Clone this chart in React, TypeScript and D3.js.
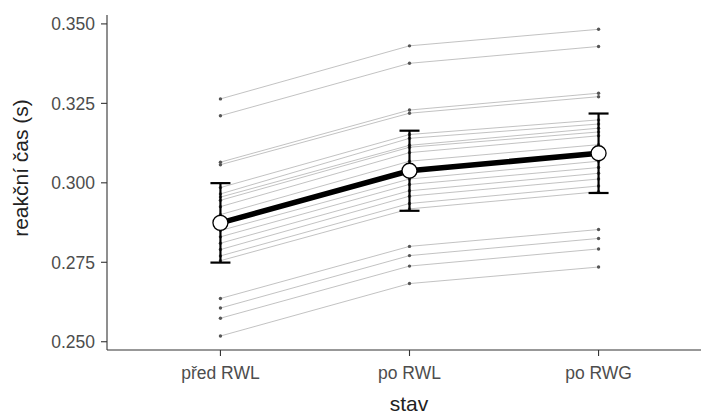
import React from 'react';
import * as d3 from 'd3';

const categories = ['před RWL', 'po RWL', 'po RWG'];
const yTicks = [0.25, 0.275, 0.3, 0.325, 0.35];

// one row per subject: [před RWL, po RWL, po RWG]
const subjects: number[][] = [
  [0.3264, 0.3431, 0.3483],
  [0.3211, 0.3376, 0.3429],
  [0.3065, 0.3229, 0.3282],
  [0.3057, 0.3219, 0.3271],
  [0.2985, 0.3152, 0.3198],
  [0.2965, 0.3140, 0.3185],
  [0.2955, 0.3118, 0.3172],
  [0.2945, 0.3112, 0.3160],
  [0.2925, 0.3095, 0.3148],
  [0.2900, 0.3068, 0.3120],
  [0.2875, 0.3040, 0.3095],
  [0.2850, 0.3012, 0.3068],
  [0.2830, 0.2995, 0.3048],
  [0.2810, 0.2975, 0.3030],
  [0.2790, 0.2958, 0.3012],
  [0.2770, 0.2935, 0.2990],
  [0.2755, 0.2918, 0.2972],
  [0.2636, 0.2800, 0.2853],
  [0.2606, 0.2771, 0.2825],
  [0.2574, 0.2738, 0.2792],
  [0.2518, 0.2683, 0.2735],
];

const means = [0.2874, 0.3038, 0.3093];
const errors = [0.0125, 0.0126, 0.0125];

export default function App() {
  const W = 701;
  const H = 417;
  const left = 107;
  const top = 15;
  const bottom = 350;

  const x = d3.scalePoint<string>().domain(categories).range([left, 712]).padding(0.6);
  const y = d3.scaleLinear().domain([0.2474, 0.3528]).range([bottom, top]);

  const line = d3.line<number>()
    .x((_, i) => x(categories[i]) as number)
    .y(d => y(d));

  const font = '"Liberation Sans", Arial, sans-serif';

  return (
    <svg width={W} height={H} style={{ position: 'absolute', left: 0, top: 0 }} fontFamily={font}>
      <rect width={W} height={H} fill="#fff" />
      {subjects.map((s, i) => (
        <g key={i}>
          <path d={line(s) || ''} fill="none" stroke="#b3b3b3" strokeWidth={0.8} />
          {s.map((v, j) => (
            <circle key={j} cx={x(categories[j])} cy={y(v)} r={1.7} fill="#555" />
          ))}
        </g>
      ))}
      {means.map((m, j) => {
        const cx = x(categories[j]) as number;
        return (
          <g key={j} stroke="#000" strokeWidth={2.2}>
            <line x1={cx} x2={cx} y1={y(m - errors[j])} y2={y(m + errors[j])} />
            <line x1={cx - 10} x2={cx + 10} y1={y(m - errors[j])} y2={y(m - errors[j])} />
            <line x1={cx - 10} x2={cx + 10} y1={y(m + errors[j])} y2={y(m + errors[j])} />
          </g>
        );
      })}
      <path d={line(means) || ''} fill="none" stroke="#000" strokeWidth={5.5} />
      {means.map((m, j) => (
        <circle key={j} cx={x(categories[j])} cy={y(m)} r={7.5} fill="#fff" stroke="#000" strokeWidth={1.3} />
      ))}

      {/* axes */}
      <line x1={left} x2={left} y1={top} y2={bottom} stroke="#333" strokeWidth={1.1} />
      <line x1={left} x2={W} y1={bottom} y2={bottom} stroke="#333" strokeWidth={1.1} />
      {yTicks.map(t => (
        <g key={t}>
          <line x1={left - 6} x2={left} y1={y(t)} y2={y(t)} stroke="#333" strokeWidth={1.1} />
          <text x={left - 12} y={y(t)} dy="0.36em" textAnchor="end" fontSize={17.5} fill="#4d4d4d">
            {d3.format('.3f')(t)}
          </text>
        </g>
      ))}
      {categories.map(c => (
        <g key={c}>
          <line x1={x(c)} x2={x(c)} y1={bottom} y2={bottom + 6} stroke="#333" strokeWidth={1.1} />
          <text x={x(c)} y={bottom + 23} dy="0.36em" textAnchor="middle" fontSize={17.5} fill="#4d4d4d">
            {c}
          </text>
        </g>
      ))}
      <text x={409} y={403} dy="0.36em" textAnchor="middle" fontSize={21} fill="#222">stav</text>
      <text transform="translate(20,168) rotate(-90)" dy="0.36em" textAnchor="middle" fontSize={21} fill="#222">
        reakční čas (s)
      </text>
    </svg>
  );
}
